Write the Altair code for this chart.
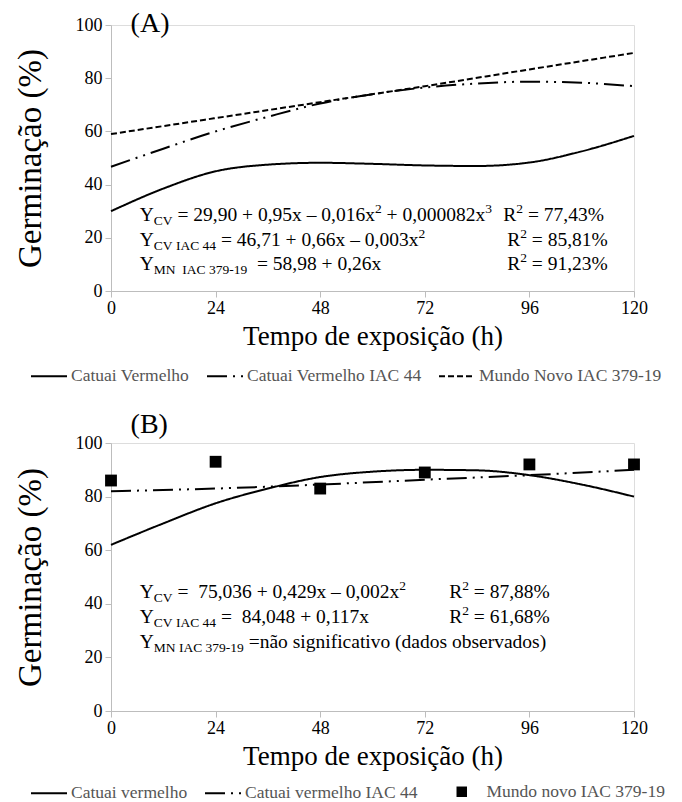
import altair as alt
import pandas as pd

FONT = "Liberation Serif"
W = 523
H_A = 266
H_B = 268

# ---------------- data ----------------
hours12 = [0, 12, 24, 36, 48, 60, 72, 84, 96, 108, 120]
hours24 = [0, 24, 48, 72, 96, 120]

names_a = ["Catuai Vermelho", "Catuai Vermelho IAC 44", "Mundo Novo IAC 379-19"]
a_cv = [30.0, 38.5, 45.0, 47.5, 48.2, 47.8, 47.2, 47.0, 48.3, 52.5, 58.3]
a_cv44 = [46.7, 53.5, 60.0, 65.5, 70.5, 74.0, 76.5, 78.0, 78.7, 78.3, 77.0]
a_mn = [59.0, 65.0, 71.0, 77.0, 83.3, 89.5]

names_b = ["Catuai vermelho", "Catuai vermelho IAC 44", "Mundo novo IAC 379-19"]
b_cv = [62.0, 70.0, 77.5, 83.0, 87.3, 89.3, 90.0, 89.8, 88.0, 84.5, 80.0]
b_cv44 = [82.0, 83.0, 84.5, 86.3, 88.0, 90.0]
b_mn = [86.0, 93.0, 83.0, 89.0, 92.0, 92.0]

x_ticks = [0, 24, 48, 72, 96, 120]
y_ticks = [0, 20, 40, 60, 80, 100]

# equation lines: (anchor hour, anchor %, [(text, kind)], R2 hour, R2 segments)
# kind: m = main text, s = subscript, p = superscript
eq_a = [
    (6.6, 26.5, [("Y", "m"), ("CV", "s"), (" = 29,90 + 0,95x \u2013 0,016x", "m"), ("2", "p"),
                 (" + 0,000082x", "m"), ("3", "p")],
     90.0, [("R", "m"), ("2", "p"), (" = 77,43%", "m")]),
    (6.6, 17.1, [("Y", "m"), ("CV IAC 44", "s"), (" = 46,71 + 0,66x \u2013 0,003x", "m"), ("2", "p")],
     90.9, [("R", "m"), ("2", "p"), (" = 85,81%", "m")]),
    (6.6, 7.9, [("Y", "m"), ("MN  IAC 379-19", "s"), ("  = 58,98 + 0,26x", "m")],
     90.9, [("R", "m"), ("2", "p"), (" = 91,23%", "m")]),
]
eq_b = [
    (6.6, 42.2, [("Y", "m"), ("CV", "s"), (" =  75,036 + 0,429x \u2013 0,002x", "m"), ("2", "p")],
     77.6, [("R", "m"), ("2", "p"), (" = 87,88%", "m")]),
    (6.6, 32.9, [("Y", "m"), ("CV IAC 44", "s"), (" =  84,048 + 0,117x", "m")],
     77.6, [("R", "m"), ("2", "p"), (" = 61,68%", "m")]),
    (6.6, 23.5, [("Y", "m"), ("MN IAC 379-19", "s"), (" =n\u00e3o significativo (dados observados)", "m")],
     None, []),
]

# ---------------- text metrics (Times / Liberation Serif) ----------------
TW = {' ': 250, ',': 250, '.': 250, '+': 564, '=': 564, '\u2013': 500, '-': 333,
      'x': 500, '%': 833, '(': 333, ')': 333,
      'R': 667, 'Y': 722, 'C': 667, 'V': 722, 'I': 333, 'A': 722, 'M': 889, 'N': 722,
      'n': 500, '\u00e3': 444, 'o': 500, 's': 389, 'i': 278, 'g': 500, 'f': 333,
      'c': 444, 't': 278, 'v': 500, 'd': 500, 'a': 444, 'b': 500, 'e': 444, 'r': 333}
for dgt in "0123456789":
    TW[dgt] = 500

FS_MAIN = 19.5
FS_SMALL = 13.5
NBSP = "\u00a0"


def text_w(s, fs):
    return sum(TW.get(c, 500) for c in s) / 1000.0 * fs


def eq_rows(eqs):
    rows = []
    for hx, vy, segs, rx, rsegs in eqs:
        for start, parts in ((hx, segs), (rx, rsegs)):
            off = 0.0
            for txt, kind in parts:
                fs = FS_MAIN if kind == "m" else FS_SMALL
                lead = len(txt) - len(txt.lstrip(" "))
                body = txt.lstrip(" ").rstrip(" ")
                rows.append({"x": start + (off + text_w(" " * lead, fs)) * 120.0 / W, "y": vy,
                             "t": body.replace(" ", NBSP), "k": kind})
                off += text_w(txt, fs)
    return pd.DataFrame(rows)


def axis_x():
    return alt.Axis(values=x_ticks, title="Tempo de exposi\u00e7\u00e3o (h)", grid=False,
                    titleFont=FONT, titleFontSize=27, titleFontWeight="normal", titleColor="black",
                    titlePadding=6, labelFont=FONT, labelFontSize=18, labelColor="black",
                    labelPadding=2, domainColor="#bdbdbd", tickColor="#bdbdbd", tickSize=6,
                    labelFlush=False)


def axis_y():
    return alt.Axis(values=y_ticks, title="Germina\u00e7\u00e3o (%)", grid=False,
                    titleFont=FONT, titleFontSize=33, titleFontWeight="normal", titleColor="black",
                    titlePadding=28, labelFont=FONT, labelFontSize=18, labelColor="black",
                    labelPadding=3, domainColor="#bdbdbd", tickColor="#bdbdbd", tickSize=6,
                    labelFlush=False)


def xs():
    return alt.X("h:Q", scale=alt.Scale(domain=[0, 120], nice=False, zero=False), axis=axis_x())


def ys():
    return alt.Y("v:Q", scale=alt.Scale(domain=[0, 100], nice=False), axis=axis_y())


DASHES = [[1, 0], [20, 6, 2, 6, 2, 6], [6, 3]]


def dash_legend(x, y):
    return alt.Legend(orient="none", legendX=x, legendY=y, direction="horizontal", title=None,
                      labelFont=FONT, labelFontSize=17.5, labelColor="#555555", labelLimit=400,
                      symbolType="stroke", symbolStrokeColor="black", symbolStrokeWidth=2,
                      symbolSize=1296, labelOffset=3, columnPadding=13, symbolLimit=0)


def annotations(eqs, label, label_y):
    df = eq_rows(eqs)
    layers = []
    for kind, fs, dy in (("m", FS_MAIN, 0), ("s", FS_SMALL, 4), ("p", FS_SMALL, -8)):
        layers.append(alt.Chart(df).transform_filter(alt.datum.k == kind).mark_text(
            font=FONT, fontSize=fs, align="left", baseline="alphabetic", color="black", dy=dy
        ).encode(x="x:Q", y="y:Q", text="t:N"))
    layers.append(alt.Chart(pd.DataFrame({"x": [4.5], "y": [label_y], "t": [label]})).mark_text(
        font=FONT, fontSize=28, align="left", baseline="middle", color="black"
    ).encode(x="x:Q", y="y:Q", text="t:N"))
    return layers


# ---------------- panel A ----------------
rows_a = []
for h, v in zip(hours12, a_cv):
    rows_a.append({"h": h, "v": v, "serie": names_a[0]})
for h, v in zip(hours12, a_cv44):
    rows_a.append({"h": h, "v": v, "serie": names_a[1]})
for h, v in zip(hours24, a_mn):
    rows_a.append({"h": h, "v": v, "serie": names_a[2]})
df_a = pd.DataFrame(rows_a)

lines_a = alt.Chart(df_a).mark_line(color="black", strokeWidth=2, interpolate="monotone").encode(
    x=xs(), y=ys(),
    strokeDash=alt.StrokeDash("serie:N", scale=alt.Scale(domain=names_a, range=DASHES),
                              legend=dash_legend(-81, 332)),
    detail="serie:N",
)
panel_a = alt.layer(lines_a, *annotations(eq_a, "(A)", 100.3)).properties(width=W, height=H_A)

# ---------------- panel B ----------------
rows_b = []
for h, v in zip(hours12, b_cv):
    rows_b.append({"h": h, "v": v, "serie": names_b[0]})
for h, v in zip(hours24, b_cv44):
    rows_b.append({"h": h, "v": v, "serie": names_b[1]})
df_b = pd.DataFrame(rows_b)
df_bp = pd.DataFrame({"h": hours24, "v": b_mn, "serie": [names_b[2]] * len(hours24)})

lines_b = alt.Chart(df_b).mark_line(color="black", strokeWidth=2, interpolate="monotone").encode(
    x=xs(), y=ys(),
    strokeDash=alt.StrokeDash("serie:N", scale=alt.Scale(domain=names_b[:2], range=DASHES[:2]),
                              legend=dash_legend(-81, 331)),
    detail="serie:N",
)
pts_b = alt.Chart(df_bp).mark_point(filled=True, color="black", size=140, opacity=1).encode(
    x=xs(), y=ys(),
    shape=alt.Shape("serie:N", scale=alt.Scale(domain=[names_b[2]], range=["square"]),
                    legend=alt.Legend(orient="none", legendX=342, legendY=340, title=None,
                                      labelFont=FONT, labelFontSize=17.5, labelColor="#555555",
                                      labelLimit=400,
                                      symbolFillColor="black", symbolStrokeColor="black",
                                      symbolSize=110, labelOffset=16)),
)
panel_b = alt.layer(lines_b, pts_b, *annotations(eq_b, "(B)", 106.6)).properties(width=W, height=H_B)

chart = alt.vconcat(panel_a, panel_b, spacing=24).resolve_scale(
    strokeDash="independent", shape="independent"
).resolve_legend(strokeDash="independent", shape="independent").properties(
    padding={"left": 5, "top": 1, "right": 0, "bottom": 0}
).configure_view(stroke=None).configure(
    background="white", font=FONT
).configure_axis(labelFont=FONT, titleFont=FONT).configure_legend(labelFont=FONT)

chart.save("out.html", embed_options={"renderer": "svg", "actions": False})
